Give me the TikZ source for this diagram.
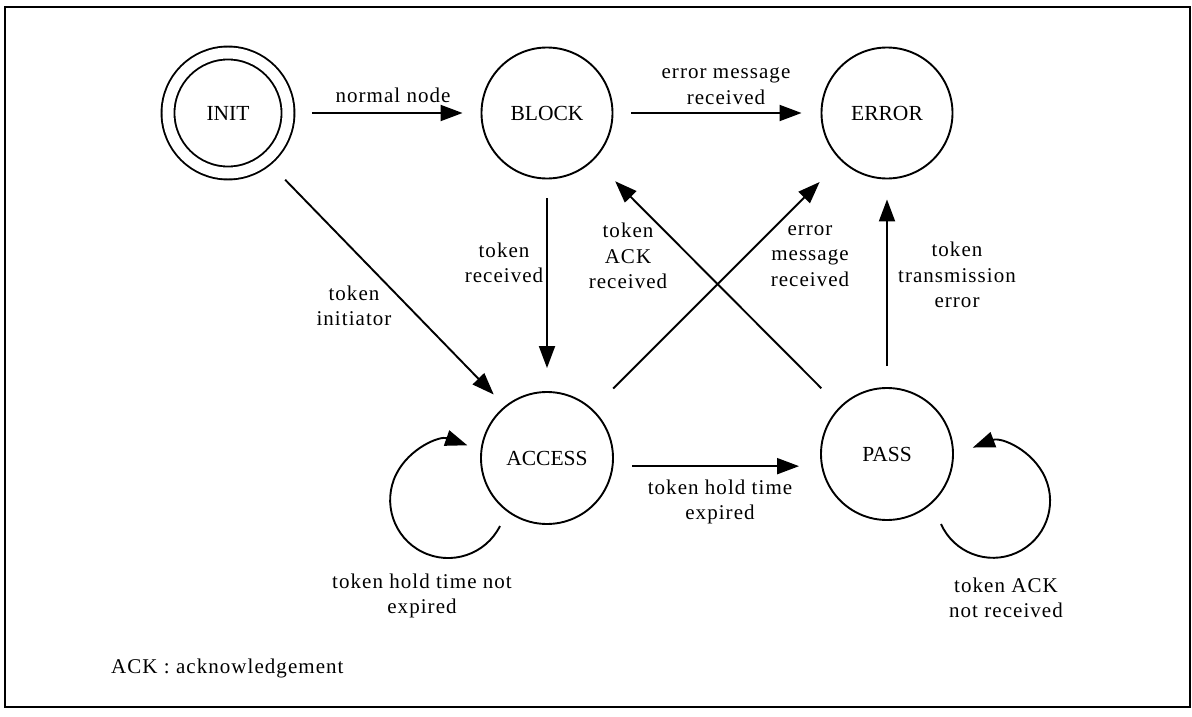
\documentclass[tikz,border=0pt]{standalone}
\usepackage{fontspec}
\setmainfont{Liberation Serif}
\newfontfamily\lblfamily{Liberation Serif}[LetterSpace=5]
\usetikzlibrary{arrows.meta}
\begin{document}
\begin{tikzpicture}[x=1pt,y=-1pt,
  state/.style={circle,draw,line width=1.9pt,minimum size=131pt,inner sep=0pt,
                font=\fontsize{21.5}{25}\selectfont},
  arr/.style={line width=1.9pt,-{Triangle[length=22pt,width=16pt]}},
  lbl/.style={align=center,inner sep=0pt,font=\lblfamily\fontsize{21}{25.5}\selectfont}]
\useasboundingbox (0,0) rectangle (1192,717);
% outer frame
\draw[line width=2pt] (5,7) rectangle (1190,707);

% states
\node[state,double,double distance=11pt,minimum size=120pt] (init) at (228,113) {INIT};
\node[state] (block) at (547,113) {BLOCK};
\node[state] (error) at (887,113) {ERROR};
\node[state,minimum size=132pt] (access) at (547,458) {ACCESS};
\node[state,minimum size=132pt] (pass) at (887,454) {PASS};

% transitions
\draw[arr,shorten <=23pt,shorten >=18pt] (init) -- (block);
\draw[arr,shorten <=18pt,shorten >=19pt] (block) -- (error);
\draw[arr,shorten <=19pt,shorten >=23pt] (block) -- (access);
\draw[arr,shorten <=27pt,shorten >=16pt] (init.-51) -- (access.129);
\draw[arr,shorten <=26pt,shorten >=30pt] (pass.135) -- (block.-45);
\draw[arr,shorten <=29pt,shorten >=30pt] (access.47) -- (error.-134);
\draw[arr,shorten <=21pt,shorten >=20pt] (pass) -- (error);
\draw[arr,shorten <=19pt,shorten >=21pt] (access.-7) -- (access.-7 -| pass.west);

% self loops
\draw[arr] ([shift={(-47,68)}]access.center) arc[start angle=26.6,end angle=289.3,radius=58];
\draw[arr] ([shift={(54,70)}]pass.center) arc[start angle=156,end angle=-110.8,radius=57];

% transition labels
\node[lbl] (lnormal) at (393,95) {normal node};
\node[lbl] (lerr1) at (726,86) {error message\\received};
\node[lbl] (linit) at (354,306) {token\\initiator};
\node[lbl] (lrecv) at (504,263) {token\\received};
\node[lbl] (lack1) at (628,256) {token\\ACK\\received};
\node[lbl] (lerr2) at (810,256) {error\\message\\received};
\node[lbl] (ltrans) at (957,275) {token\\transmission\\error};
\node[lbl] (lhold) at (720,502) {token hold time\\expired};
\node[lbl] (lnot) at (422,596) {token hold time not\\expired};
\node[lbl] (lack2) at (1006,598) {token ACK\\not received};
\node[lbl,anchor=west] (legend) at (111,668) {ACK : acknowledgement};
\end{tikzpicture}
\end{document}
